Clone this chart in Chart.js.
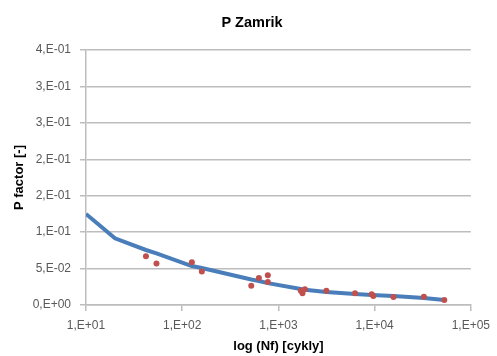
<!DOCTYPE html>
<html>
<head>
<meta charset="utf-8">
<script src="https://cdn.jsdelivr.net/npm/chart.js@4.4.1/dist/chart.umd.min.js"></script>
<style>
  html, body { margin:0; padding:0; background:#fff; }
  canvas { display:block; }
</style>
</head>
<body>
<canvas id="chartZamrik" width="497" height="356"></canvas>
<script>
// ── Datos ──
const bodyN = [42, 54, 126, 160, 522, 627, 776, 776, 1710, 1780, 1885, 3150, 6260, 9330, 9700, 15700, 32500, 53000];
const bodyP = [0.067, 0.057, 0.0586, 0.046, 0.0265, 0.037, 0.0407, 0.0316, 0.0196, 0.016, 0.0215, 0.0196, 0.016, 0.0147, 0.0124, 0.011, 0.0114, 0.0069];

const lineaN = [10, 20, 42, 54, 126, 160, 522, 627, 776, 1710, 1885, 3150, 6260, 9330, 15700, 32500, 53000];
const lineaP = [0.125, 0.0915, 0.0755, 0.0708, 0.0535, 0.0508, 0.0351, 0.033, 0.030, 0.022, 0.021, 0.0178, 0.0151, 0.0137, 0.0124, 0.0096, 0.0069];

const xTicks  = [10, 100, 1000, 10000, 100000];
const xLabels = ['1,E+01', '1,E+02', '1,E+03', '1,E+04', '1,E+05'];
const yLabels = ['0,E+00', '5,E-02', '1,E-01', '2,E-01', '2,E-01', '3,E-01', '3,E-01', '4,E-01'];

const GRIS = '#bdbdbd';
const TEXTO = '#595959';
const FUENTE = "'Liberation Sans', Arial, sans-serif";

const puntos = (xs, ys) => xs.map((x, i) => ({ x: x, y: ys[i] }));

new Chart(document.getElementById('chartZamrik'), {
  type: 'scatter',
  data: {
    datasets: [
      { label: 'Data', data: puntos(bodyN, bodyP), order: 0,
        pointRadius: 3, pointHoverRadius: 3, backgroundColor: '#C0504D', borderWidth: 0 },
      { label: 'Model', data: puntos(lineaN, lineaP), order: 1, showLine: true,
        pointRadius: 0, borderColor: '#4A7EBB', borderWidth: 4, tension: 0 }
    ]
  },
  options: {
    responsive: false, animation: false,
    // padding izq. para centrar el título como en Excel
    layout: { padding: { left: 30, right: 23, top: 0, bottom: 0 } },
    plugins: {
      legend: { display: false },
      tooltip: { enabled: false },
      title: { display: true, text: 'P Zamrik', color: '#000',
        font: { family: FUENTE, size: 14.5, weight: 'bold', lineHeight: 1.2 },
        padding: { top: 14, bottom: 18.6 } }
    },
    scales: {
      x: {
        type: 'logarithmic', min: 10, max: 100000,
        afterBuildTicks: s => { s.ticks = xTicks.map(v => ({ value: v })); },
        afterFit: s => { s.height = 51; },
        grid: { drawOnChartArea: false, drawTicks: true, tickLength: 6, color: GRIS, lineWidth: 1.5 },
        border: { display: true, color: GRIS, width: 1.5 },
        ticks: { color: TEXTO, padding: 7, maxRotation: 0, autoSkip: false,
          font: { family: FUENTE, size: 12 },
          callback: (v, i) => xLabels[i] },
        title: { display: true, text: 'log (Nf) [cykly]', color: '#000',
          font: { family: FUENTE, size: 13, weight: 'bold', lineHeight: 1.2 },
          padding: { top: 0, bottom: 2 } }
      },
      y: {
        min: 0, max: 0.35,
        afterFit: s => { s.width = 56; },
        grid: { color: GRIS, lineWidth: 1.5, tickLength: 6 },
        border: { display: true, color: GRIS, width: 1.5 },
        ticks: { stepSize: 0.05, color: TEXTO, padding: 9,
          font: { family: FUENTE, size: 12 },
          callback: (v, i) => yLabels[i] },
        title: { display: true, text: 'P factor [-]', color: '#000',
          font: { family: FUENTE, size: 13, weight: 'bold', lineHeight: 1.2 },
          padding: { top: -18, bottom: 0 } }
      }
    }
  }
});
</script>
</body>
</html>
